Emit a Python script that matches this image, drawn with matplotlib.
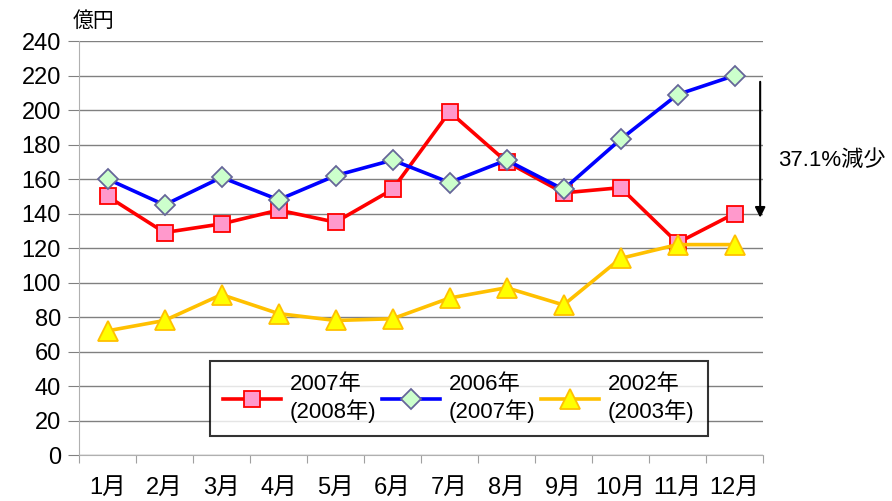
import matplotlib
matplotlib.use("Agg")
import matplotlib.pyplot as plt

plt.rcParams['font.family'] = ['Liberation Sans', 'Noto Sans CJK JP', 'DejaVu Sans']

months = ['1月', '2月', '3月', '4月', '5月', '6月', '7月', '8月', '9月', '10月', '11月', '12月']
s2007 = [150, 129, 134, 142, 135, 154, 199, 170, 152, 155, 123, 140]
s2006 = [160, 145, 161, 148, 162, 171, 158, 171, 154, 183, 209, 220]
s2002 = [72, 78, 93, 82, 78, 79, 91, 97, 87, 114, 122, 122]
labels = ['2007年\n(2008年)', '2006年\n(2007年)', '2002年\n(2003年)']
yticks = list(range(0, 241, 20))

fig = plt.figure(figsize=(8.92, 5.01), dpi=100)
ax = fig.add_axes([0.0886, 0.0918, 0.8554 - 0.0886, 0.918 - 0.0918])

x = list(range(len(months)))
ax.plot(x, s2007, color='#ff0000', lw=2.6, marker='s', ms=12,
        mfc='#ff99cc', mec='#ff0000', mew=1.3, label=labels[0], zorder=3)
ax.plot(x, s2006, color='#0000ff', lw=2.6, marker='D', ms=10,
        mfc='#ccffcc', mec='#666699', mew=1.3, label=labels[1], zorder=4)
ax.plot(x, s2002, color='#ffc000', lw=2.6, marker='^', ms=14,
        mfc='#ffff00', mec='#ffc000', mew=1.3, label=labels[2], zorder=3)

ax.set_xlim(-0.5, len(months) - 0.5)
ax.set_ylim(0, 240)
ax.set_yticks(yticks)
ax.set_yticklabels([str(v) for v in yticks], fontsize=17)
ax.set_xticks([i - 0.5 for i in range(len(months) + 1)], minor=False)
ax.set_xticklabels([])
ax.set_xticks(x, minor=True)
ax.set_xticklabels(months, minor=True, fontsize=17)
ax.tick_params(axis='x', which='major', length=6, color='#a0a0a0', direction='out')
ax.tick_params(axis='x', which='minor', length=0, pad=16)
ax.tick_params(axis='y', length=8, color='#808080', pad=5)
ax.grid(axis='y', color='#808080', lw=1.0)
ax.set_axisbelow(True)
for side in ['top', 'right']:
    ax.spines[side].set_visible(False)
ax.spines['left'].set_color('#b0b0b0')
ax.spines['bottom'].set_color('#b0b0b0')

ax.text(-0.01, 1.025, '億円', transform=ax.transAxes, fontsize=15, va='bottom', ha='left')

ax.annotate('', xy=(11.45, 136), xytext=(11.45, 218),
            arrowprops=dict(arrowstyle='-|>', color='black', lw=1.5, mutation_scale=15),
            annotation_clip=False)
ax.text(11.76, 171, '37.1%減少', fontsize=16, va='center', ha='left', clip_on=False)

leg = ax.legend(loc='lower left', bbox_to_anchor=(0.1915, 0.046, 0.9196 - 0.1915, 0.239),
                mode='expand', ncol=3, fontsize=16, frameon=True, fancybox=False,
                edgecolor='black', handlelength=2.6, borderaxespad=0, labelspacing=0.2,
                handletextpad=0.4, columnspacing=0.8, borderpad=0.6)
leg.get_frame().set_linewidth(1.5)
leg.set_zorder(5)

fig.savefig('out.png', dpi=100)
